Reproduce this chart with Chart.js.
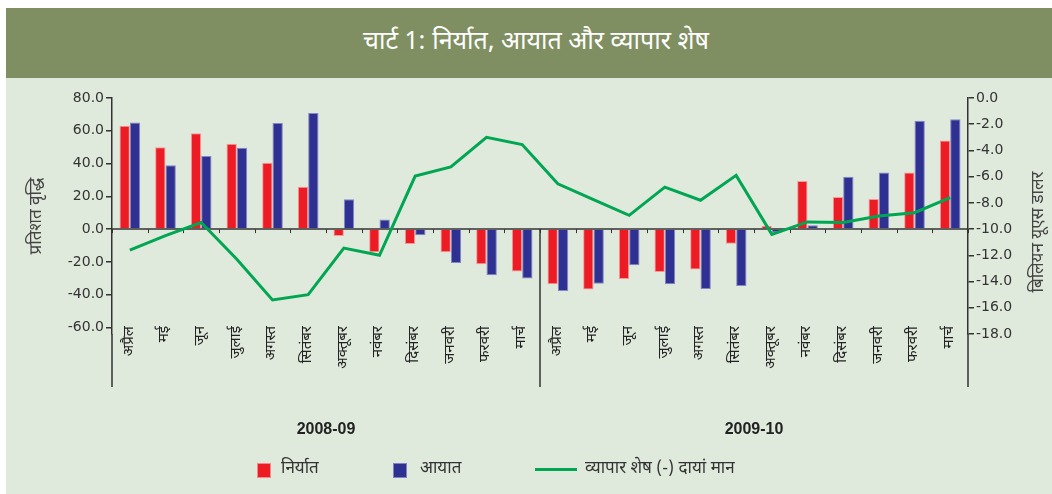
<!DOCTYPE html>
<html><head><meta charset="utf-8">
<script src="https://cdn.jsdelivr.net/npm/chart.js@4.4.0/dist/chart.umd.min.js"></script>
<style>
html,body{margin:0;padding:0;background:#fff;}
#wrap{position:relative;width:1052px;height:494px;overflow:hidden;background:#fff;}
#bg{position:absolute;left:6px;top:78px;right:0;bottom:0;background:#dfe9dc;}
#band{position:absolute;left:6px;top:8px;right:0;height:70px;background:#808f61;color:#fff;
  font-family:"Noto Sans Devanagari","Lohit Devanagari","Noto Serif Devanagari","Noto Sans",sans-serif;font-size:25px;
  display:flex;align-items:center;justify-content:center;padding-left:14px;box-sizing:border-box;}
canvas{position:absolute;left:0;top:0;}
.lg{position:absolute;font-family:"Noto Sans Devanagari","Lohit Devanagari","Noto Sans",sans-serif;font-size:17px;color:#333;line-height:20px;top:459px;white-space:nowrap;}
.sq{position:absolute;top:463px;width:14px;height:15px;}
</style></head>
<body><div id="wrap">
<div id="bg"></div>
<div id="band">चार्ट 1: निर्यात, आयात और व्यापार शेष</div>
<canvas id="c" width="1052" height="494"></canvas>
<div class="sq" style="left:257px;background:#ed1c24;border:1px solid #f28b8b;box-sizing:border-box;"></div>
<div class="lg" style="left:281px;">निर्यात</div>
<div class="sq" style="left:393px;background:#2e3192;border:1px solid #7f82c2;box-sizing:border-box;"></div>
<div class="lg" style="left:420px;">आयात</div>
<div style="position:absolute;left:535px;top:468px;width:42px;height:3px;background:#00a651;"></div>
<div class="lg" style="left:585px;">व्यापार शेष (-) दायां मान</div>
</div>
<script>
const categories = ['अप्रैल','मई','जून','जुलाई','अगस्त','सितंबर','अक्तूबर','नवंबर','दिसंबर','जनवरी','फरवरी','मार्च',
                    'अप्रैल','मई','जून','जुलाई','अगस्त','सितंबर','अक्तूबर','नवंबर','दिसंबर','जनवरी','फरवरी','मार्च'];
const years = ['2008-09','2009-10'];
const exportsGrowth = [63.0, 50.0, 58.5, 52.1, 40.5, 25.8, -4.2, -14.1, -9.1, -14.1, -21.5, -25.9,
                       -33.7, -36.8, -30.4, -26.1, -24.6, -8.9, 2.0, 29.3, 19.6, 18.4, 34.5, 54.0];
const importsGrowth = [65.1, 39.0, 44.6, 49.6, 64.7, 70.9, 18.2, 5.8, -3.7, -20.7, -28.1, -30.2,
                       -37.8, -33.3, -22.1, -33.7, -36.6, -34.7, -2.0, 2.3, 32.0, 34.5, 66.1, 67.0];
const tradeBalance = [-11.6, -10.5, -9.5, -12.3, -15.4, -15.0, -11.45, -12.0, -5.95, -5.25, -3.0, -3.55,
                      -6.55, -7.75, -8.95, -6.8, -7.8, -5.9, -10.4, -9.45, -9.5, -9.0, -8.75, -7.6];
const leftTicks = [80, 60, 40, 20, 0, -20, -40, -60];
const rightTicks = [0, -2, -4, -6, -8, -10, -12, -14, -16, -18];
const leftTitle = 'प्रतिशत वृद्धि';
const rightTitle = 'बिलियन यूएस डालर';

const DEV = '"Noto Sans Devanagari","Lohit Devanagari","Noto Sans",sans-serif';
const NUM = '"DejaVu Sans",Verdana,sans-serif';
const AXIS_BOTTOM = 387;

const extras = {
  id: 'extras',
  afterLayout(chart) {
    chart.scales.x.top -= 8;
  },
  beforeDatasetsDraw(chart) {
    const {ctx, chartArea: a, scales} = chart;
    const y0 = scales.y.getPixelForValue(0);
    ctx.save();
    ctx.strokeStyle = '#333';
    ctx.lineWidth = 1.5;
    ctx.beginPath(); ctx.moveTo(a.left, y0); ctx.lineTo(a.right, y0); ctx.stroke();
    ctx.lineWidth = 1;
    for (let i = 0; i <= categories.length; i++) {
      const x = Math.round(scales.x.getPixelForValue(i - 0.5)) + 0.5;
      ctx.beginPath(); ctx.moveTo(x, y0); ctx.lineTo(x, y0 + 4); ctx.stroke();
    }
    ctx.restore();
  },
  afterDraw(chart) {
    const {ctx, chartArea: a, scales} = chart;
    const y0 = scales.y.getPixelForValue(0);
    ctx.save();
    ctx.strokeStyle = '#333';
    ctx.lineWidth = 1.5;
    ctx.beginPath();
    ctx.moveTo(a.left, a.bottom); ctx.lineTo(a.left, AXIS_BOTTOM);
    ctx.moveTo(a.right, a.bottom); ctx.lineTo(a.right, AXIS_BOTTOM);
    const xd = scales.x.getPixelForValue(11.5);
    ctx.moveTo(xd, y0); ctx.lineTo(xd, AXIS_BOTTOM);
    ctx.stroke();
    ctx.fillStyle = '#444';
    ctx.font = '17px ' + DEV;
    ctx.textAlign = 'center';
    ctx.textBaseline = 'middle';
    ctx.translate(38, 216); ctx.rotate(-Math.PI / 2); ctx.fillText(leftTitle, 0, 0);
    ctx.setTransform(1, 0, 0, 1, 0, 0);
    ctx.translate(1040, 232); ctx.rotate(-Math.PI / 2); ctx.fillText(rightTitle, 0, 0);
    ctx.restore();
  }
};

new Chart(document.getElementById('c'), {
  data: {
    labels: categories,
    datasets: [
      {type: 'line', label: 'व्यापार शेष (-) दायां मान', data: tradeBalance, yAxisID: 'y1', xAxisID: 'x',
       borderColor: '#00a651', borderWidth: 3, pointRadius: 0, tension: 0, order: 0},
      {type: 'bar', label: 'निर्यात', data: exportsGrowth, yAxisID: 'y', xAxisID: 'x',
       backgroundColor: '#ed1c24', borderColor: '#f59a9a', borderWidth: 1, order: 1,
       categoryPercentage: 0.58, barPercentage: 1.0},
      {type: 'bar', label: 'आयात', data: importsGrowth, yAxisID: 'y', xAxisID: 'x',
       backgroundColor: '#2e3192', borderColor: '#8587c4', borderWidth: 1, order: 1,
       categoryPercentage: 0.58, barPercentage: 1.0}
    ]
  },
  options: {
    responsive: false,
    animation: false,
    layout: {padding: {left: 0, right: 0, top: 98, bottom: 50}},
    plugins: {legend: {display: false}, tooltip: {enabled: false}, title: {display: false}},
    scales: {
      x: {
        type: 'category', position: 'bottom', offset: true,
        grid: {display: false, drawTicks: false}, border: {display: false},
        ticks: {autoSkip: false, minRotation: 90, maxRotation: 90, padding: 0,
                font: {family: DEV, size: 15}, color: '#222'},
        afterFit(s) { s.height = 60; }
      },
      x2: {
        type: 'category', position: 'bottom', offset: true, labels: years,
        grid: {display: false, drawTicks: false}, border: {display: false},
        ticks: {padding: 26, font: {family: '"Liberation Sans Narrow","Liberation Sans",sans-serif', size: 16, weight: 'bold'}, color: '#222'},
        afterFit(s) { s.height = 50; }
      },
      y: {
        position: 'left', min: -64, max: 80,
        afterBuildTicks(s) { s.ticks = leftTicks.map(v => ({value: v})); },
        ticks: {callback: v => Number(v).toFixed(1), font: {family: NUM, size: 14}, color: '#333', padding: 2},
        grid: {drawOnChartArea: false, tickLength: 6, color: '#333', lineWidth: 1.5},
        border: {display: true, color: '#333', width: 1.5},
        afterFit(s) { s.width = 112; }
      },
      y1: {
        position: 'right', min: -18, max: 0,
        afterBuildTicks(s) { s.ticks = rightTicks.map(v => ({value: v})); },
        ticks: {callback: v => Number(v).toFixed(1), font: {family: NUM, size: 14}, color: '#333', padding: 2},
        grid: {drawOnChartArea: false, tickLength: 6, color: '#333', lineWidth: 1.5},
        border: {display: true, color: '#333', width: 1.5},
        afterFit(s) { s.width = 84; }
      }
    }
  },
  plugins: [extras]
});
</script>
</body></html>
